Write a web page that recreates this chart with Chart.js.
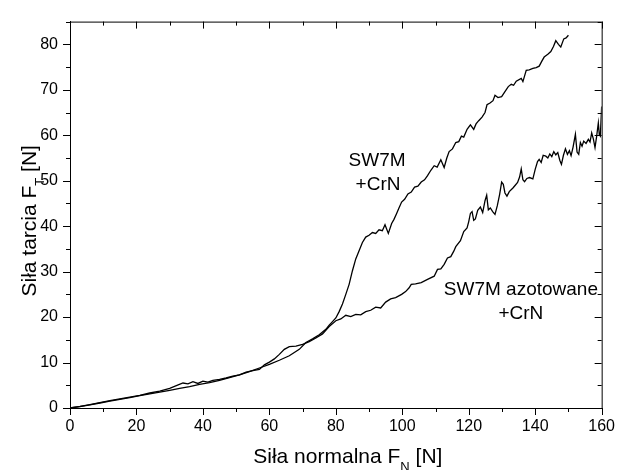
<!DOCTYPE html>
<html>
<head>
<meta charset="utf-8">
<script src="https://cdn.jsdelivr.net/npm/chart.js@4.4.0/dist/chart.umd.min.js"></script>
<style>
  html, body { margin: 0; padding: 0; background: #fff; }
  canvas { display: block; }
</style>
</head>
<body>
<canvas id="chart" width="624" height="470"></canvas>
<script>
// SW7M +CrN
const sw7mX = [0, 3, 6, 9, 12, 15, 18, 21, 24, 27, 30, 33, 36, 39, 42, 45, 48, 51, 54, 57, 60, 63, 66, 69, 71, 73, 75, 77, 78, 79, 80,
  81, 82, 83, 84, 85, 86, 87, 88, 89, 90, 91, 92, 93, 94, 94.8, 95.8, 96.8, 97.5, 98.3, 99, 99.8, 100.7, 101.7, 102.7, 103.7, 104.7,
  105.7, 106.7, 107.6, 108.6, 109.6, 110.5, 111.6, 112.6, 113.4, 114.1, 115.1, 116.1, 117, 117.8, 118.5, 119.5, 120.5, 121.5, 122.2,
  123, 124, 124.9, 125.5, 126.4, 127.3, 127.9, 128.8, 129.9, 130.9, 131.9, 132.8, 133.5, 134.3, 135.8, 136.3, 137.3, 138.2, 139.3,
  140.3, 141.2, 142, 142.7, 143.8, 144.7, 145.5, 146.2, 147, 147.7, 148.6, 149.3, 150];
const sw7mY = [0, 0.3, 0.7, 1.1, 1.5, 1.9, 2.3, 2.7, 3.1, 3.5, 3.9, 4.3, 4.7, 5.2, 5.6, 6.1, 6.7, 7.3, 8.0, 8.8, 9.6, 10.5, 11.5, 12.9, 14.4, 15.2, 16.1, 17.3, 18.2, 19.0, 19.8,
  21.2, 22.9, 25.0, 27.2, 30.2, 32.8, 34.6, 36.4, 37.6, 38.0, 38.6, 38.4, 39.2, 39.0, 40.3, 38.4, 40.6, 41.5, 42.8, 44.0, 45.3, 45.9, 47.1, 47.5, 48.6, 48.8,
  49.7, 50.2, 51.1, 52.3, 53.3, 53.0, 54.6, 52.9, 55.0, 56.4, 57.0, 58.4, 58.6, 59.8, 59.6, 61.3, 62.3, 61.3, 62.5,
  63.2, 64.0, 65.0, 66.7, 67.1, 67.6, 68.8, 68.3, 68.5, 69.6, 70.7, 71.2, 71.0, 71.9, 72.5, 71.8, 74.3, 74.4, 74.7,
  74.9, 75.2, 76.3, 77.2, 77.8, 78.4, 79.5, 80.8, 80.0, 79.4, 81.2, 81.4, 82.0];

// SW7M azotowane +CrN
const azotX = [0, 3, 6, 9, 12, 15, 18, 21, 24, 27, 30, 32, 34, 35.5, 37, 38.5, 40, 41.5, 43, 45, 47, 49, 51, 53, 55, 57, 58.5, 60, 61.5,
  63, 64.5, 66, 68, 70, 72, 74, 76, 78, 80, 81.5, 83, 84.5, 86, 87.5, 89, 90.5, 92, 93.5, 95, 96.5, 98, 99.8, 101, 102, 102.7, 104,
  105.7, 107.6, 109.6, 110.6, 111.6, 112.6, 113.6, 114.6, 115.5, 116.1, 117.5, 118.5, 119.5, 120, 120.5, 121, 121.5, 122, 122.7,
  123.5, 124.2, 124.9, 125.4, 125.9, 126.5, 127.2, 127.9, 128.6, 129.3, 129.9, 130.4, 130.9, 131.5, 132.2, 133.3, 134, 134.7, 135.3,
  135.8, 136.3, 136.8, 137.5, 138.3, 139.3, 140, 140.7, 141.2, 141.8, 142.4, 143.2, 143.8, 144.4, 145, 145.6, 146.2, 146.8, 147.4,
  147.9, 148.5, 149.1, 149.7, 150.3, 150.8, 151.4, 152.1, 152.6, 153.1, 153.6, 154.1, 154.6, 155.3, 156, 156.5, 157, 157.5, 158,
  158.5, 159, 159.3, 159.6, 160];
const azotY = [0, 0.35, 0.75, 1.2, 1.6, 2.0, 2.4, 2.8, 3.3, 3.7, 4.3, 4.9, 5.5, 5.3, 5.8, 5.4, 5.9, 5.7, 6.1, 6.3, 6.6, 7.0, 7.3, 7.9, 8.2, 8.5, 9.5, 10.1, 10.8,
  11.8, 12.9, 13.5, 13.6, 14.0, 14.6, 15.4, 16.3, 17.9, 19.2, 19.6, 20.4, 20.1, 20.6, 20.5, 21.2, 21.5, 22.2, 22.0, 23.3, 24.0, 24.3, 25.0, 25.6, 26.4, 27.2, 27.3,
  27.6, 28.3, 29.0, 30.5, 30.6, 31.6, 33.0, 33.3, 34.5, 35.5, 36.8, 38.8, 39.6, 41.0, 42.8, 43.2, 41.3, 41.6, 43.5,
  44.2, 43.0, 45.6, 46.8, 43.6, 44.0, 43.2, 42.6, 44.5, 47.0, 49.7, 49.2, 47.3, 46.6, 47.6, 48.4, 49.0, 49.6, 50.8,
  52.6, 50.2, 49.8, 50.5, 50.7, 50.4, 52.5, 54.2, 54.7, 54.0, 55.6, 55.4, 55.0, 55.9, 55.3, 56.4, 55.7, 56.2, 54.5,
  53.6, 55.6, 57.0, 55.8, 56.6, 55.5, 57.4, 60.2, 56.3, 55.8, 58.4, 57.6, 58.7, 58.2, 59.1, 58.5, 60.5, 59.2, 57.3,
  59.8, 62.7, 60.1, 59.8, 66.3];

const xTickValues = [0, 20, 40, 60, 80, 100, 120, 140, 160];
const yTickValues = [0, 10, 20, 30, 40, 50, 60, 70, 80];

const FONT = 'Arial, "Liberation Sans", sans-serif';

const toPoints = (xs, ys) => xs.map((x, i) => ({ x: x, y: ys[i] }));

// text labels placed in data units
const notes = [
  { text: 'SW7M', x: 92.4, y: 54.4 },
  { text: '+CrN', x: 92.7, y: 49.0 },
  { text: 'SW7M azotowane', x: 135.7, y: 26.0 },
  { text: '+CrN', x: 135.7, y: 20.8 }
];

function drawSubTitle(ctx, parts, size) {
  let w = 0;
  parts.forEach(p => {
    ctx.font = (p.sub ? Math.round(size * 0.6) : size) + 'px ' + FONT;
    p.w = ctx.measureText(p.t).width;
    w += p.w;
  });
  let x = -w / 2;
  parts.forEach(p => {
    ctx.font = (p.sub ? Math.round(size * 0.6) : size) + 'px ' + FONT;
    ctx.fillText(p.t, x, p.sub ? size * 0.42 + size * 0.36 : size * 0.36);
    x += p.w;
  });
}

const framePlugin = {
  id: 'frame',
  afterDraw(chart) {
    const ctx = chart.ctx;
    const a = chart.chartArea;
    const xs = chart.scales.x, ys = chart.scales.y;
    ctx.save();
    ctx.strokeStyle = '#000';
    ctx.lineWidth = 1;
    ctx.strokeRect(a.left + 0.5, a.top + 0.5, a.right - a.left, a.bottom - a.top);
    ctx.beginPath();
    for (let v = 0; v <= 160; v += 10) {
      const px = Math.round(xs.getPixelForValue(v)) + 0.5;
      const len = v % 20 === 0 ? 7 : 4;
      ctx.moveTo(px, a.bottom); ctx.lineTo(px, a.bottom + len);
      ctx.moveTo(px, a.top); ctx.lineTo(px, a.top + len);
    }
    for (let v = 0; v <= 85; v += 5) {
      const py = Math.round(ys.getPixelForValue(v)) + 0.5;
      const len = v % 10 === 0 ? 7 : 4;
      ctx.moveTo(a.left, py); ctx.lineTo(a.left - len, py);
      ctx.moveTo(a.right, py); ctx.lineTo(a.right - len, py);
    }
    ctx.stroke();

    ctx.fillStyle = '#000';
    ctx.textAlign = 'left';
    ctx.textBaseline = 'alphabetic';
    // x axis title
    ctx.save();
    ctx.translate((a.left + a.right) / 2 + 12, 455);
    drawSubTitle(ctx, [{ t: 'Siła normalna F' }, { t: 'N', sub: true }, { t: ' [N]' }], 21);
    ctx.restore();
    // y axis title
    ctx.save();
    ctx.translate(28, (a.top + a.bottom) / 2 + 6);
    ctx.rotate(-Math.PI / 2);
    drawSubTitle(ctx, [{ t: 'Siła tarcia F' }, { t: 'T', sub: true }, { t: ' [N]' }], 21);
    ctx.restore();

    // curve labels
    ctx.font = '19px ' + FONT;
    ctx.textAlign = 'center';
    ctx.textBaseline = 'middle';
    notes.forEach(n => ctx.fillText(n.text, xs.getPixelForValue(n.x), ys.getPixelForValue(n.y)));
    ctx.restore();
  }
};

new Chart(document.getElementById('chart'), {
  type: 'scatter',
  data: {
    datasets: [
      { label: 'SW7M +CrN', data: toPoints(sw7mX, sw7mY), showLine: true, borderColor: '#000', borderWidth: 1.3, pointRadius: 0, tension: 0 },
      { label: 'SW7M azotowane +CrN', data: toPoints(azotX, azotY), showLine: true, borderColor: '#000', borderWidth: 1.3, pointRadius: 0, tension: 0 }
    ]
  },
  options: {
    responsive: false,
    animation: false,
    events: [],
    layout: { padding: { top: 17, right: 14, left: 0, bottom: 0 } },
    plugins: { legend: { display: false }, tooltip: { enabled: false } },
    scales: {
      x: {
        type: 'linear', min: 0, max: 160,
        afterFit: s => { s.height = 62; },
        afterBuildTicks: s => { s.ticks = xTickValues.map(v => ({ value: v })); },
        grid: { display: true, drawOnChartArea: false, drawTicks: false },
        border: { display: true, color: '#000', width: 1 },
        ticks: { color: '#000', font: { family: FONT, size: 16 }, padding: 9, maxRotation: 0 }
      },
      y: {
        type: 'linear', min: 0, max: 85,
        afterFit: s => { s.width = 70; },
        afterBuildTicks: s => { s.ticks = yTickValues.map(v => ({ value: v })); },
        grid: { display: true, drawOnChartArea: false, drawTicks: false },
        border: { display: true, color: '#000', width: 1 },
        ticks: { color: '#000', font: { family: FONT, size: 16 }, padding: 12 }
      }
    }
  },
  plugins: [framePlugin]
});
</script>
</body>
</html>
